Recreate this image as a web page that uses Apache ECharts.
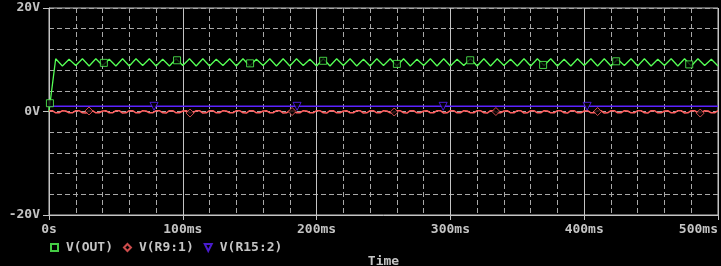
<!DOCTYPE html>
<html>
<head>
<meta charset="utf-8">
<style>
  html, body { margin: 0; padding: 0; background: #000; }
  #chart { width: 721px; height: 266px; }
</style>
<script src="https://cdn.jsdelivr.net/npm/echarts/dist/echarts.min.js"></script>
</head>
<body>
<div id="chart"></div>
<script>
// ---- data (time in ms, voltage in V) ----
const seriesNames = ['V(OUT)', 'V(R9:1)', 'V(R15:2)'];
const xTickValues = [0, 100, 200, 300, 400, 500];
const yTickValues = [-20, 0, 20];

// V(OUT): sampled every 5 ms from 0 to 500 ms
const OUT_STEP_MS = 5;
const outValues = [
  0, 10.2, 8.8, 10.1, 8.9, 10.2, 8.8, 10.2, 8.9, 10.1, 8.8,
  10.2, 8.8, 10.2, 8.9, 10.2, 8.8, 10.1, 8.8, 10.2, 8.9,
  10.2, 8.8, 10.2, 8.8, 10.1, 8.9, 10.2, 8.8, 10.2, 8.8,
  10.1, 8.9, 10.2, 8.8, 10.2, 8.8, 10.2, 8.9, 10.1, 8.8,
  10.2, 8.8, 10.2, 8.9, 10.2, 8.8, 10.1, 8.8, 10.2, 8.9,
  10.2, 8.8, 10.2, 8.8, 10.1, 8.9, 10.2, 8.8, 10.2, 8.8,
  10.1, 8.9, 10.2, 8.8, 10.2, 8.8, 10.2, 8.9, 10.1, 8.8,
  10.2, 8.8, 10.2, 8.9, 10.2, 8.8, 10.1, 8.8, 10.2, 8.9,
  10.2, 8.8, 10.2, 8.8, 10.1, 8.9, 10.2, 8.8, 10.2, 8.8,
  10.1, 8.9, 10.2, 8.8, 10.2, 8.8, 10.2, 8.9, 10.1, 8.8
];

// V(R9:1): sampled every 2.5 ms from 0 to 500 ms
const R9_STEP_MS = 2.5;
const r9Values = [
  0.15, 0.15, -0.25, -0.25, 0.15, 0.1, -0.25, -0.25,
  0.15, 0.15, -0.25, -0.3, 0.15, 0.15, -0.25, -0.25,
  0.1, 0.15, -0.25, -0.25, 0.15, 0.15, -0.3, -0.25,
  0.15, 0.15, -0.25, -0.25, 0.15, 0.1, -0.25, -0.25,
  0.15, 0.15, -0.25, -0.3, 0.15, 0.15, -0.25, -0.25,
  0.1, 0.15, -0.25, -0.25, 0.15, 0.15, -0.3, -0.25,
  0.15, 0.15, -0.25, -0.25, 0.15, 0.1, -0.25, -0.25,
  0.15, 0.15, -0.25, -0.3, 0.15, 0.15, -0.25, -0.25,
  0.1, 0.15, -0.25, -0.25, 0.15, 0.15, -0.3, -0.25,
  0.15, 0.15, -0.25, -0.25, 0.15, 0.1, -0.25, -0.25,
  0.15, 0.15, -0.25, -0.3, 0.15, 0.15, -0.25, -0.25,
  0.1, 0.15, -0.25, -0.25, 0.15, 0.15, -0.3, -0.25,
  0.15, 0.15, -0.25, -0.25, 0.15, 0.1, -0.25, -0.25,
  0.15, 0.15, -0.25, -0.3, 0.15, 0.15, -0.25, -0.25,
  0.1, 0.15, -0.25, -0.25, 0.15, 0.15, -0.3, -0.25,
  0.15, 0.15, -0.25, -0.25, 0.15, 0.1, -0.25, -0.25,
  0.15, 0.15, -0.25, -0.3, 0.15, 0.15, -0.25, -0.25,
  0.1, 0.15, -0.25, -0.25, 0.15, 0.15, -0.3, -0.25,
  0.15, 0.15, -0.25, -0.25, 0.15, 0.1, -0.25, -0.25,
  0.15, 0.15, -0.25, -0.3, 0.15, 0.15, -0.25, -0.25,
  0.1, 0.15, -0.25, -0.25, 0.15, 0.15, -0.3, -0.25,
  0.15, 0.15, -0.25, -0.25, 0.15, 0.1, -0.25, -0.25,
  0.15, 0.15, -0.25, -0.3, 0.15, 0.15, -0.25, -0.25,
  0.1, 0.15, -0.25, -0.25, 0.15, 0.15, -0.3, -0.25,
  0.15, 0.15, -0.25, -0.25, 0.15, 0.1, -0.25, -0.25,
  0.15
];

// V(R15:2): constant
const r15Times = [0, 500];
const r15Values = [1.0, 1.0];

// trace markers (time ms, value V)
const outMarkerTimes = [0.7, 41, 95.7, 150.3, 204.9, 260, 314.8, 369.3, 423.9, 478.5];
const outMarkerValues = [1.6, 9.4, 9.9, 9.3, 9.8, 9.2, 9.9, 9.0, 9.7, 9.1];
const r9MarkerTimes = [29.9, 105.4, 181.7, 258, 334, 410, 486.7];
const r9MarkerValues = [0.1, -0.3, 0.0, -0.1, 0.0, 0.0, -0.3];
const r15MarkerTimes = [78.5, 185.4, 294.6, 402.2];
const r15MarkerValues = [1.0, 1.0, 1.0, 1.0];

// ---- styles ----
const GREEN = '#55ff55';
const RED = '#ff5f5f';
const BLUE = '#5a22ff';
const FG = '#c4c4c4';
const DASH = '#a8a8a8';
const FONT = 'DejaVu Sans Mono';

const pairs = (ts, vs) => ts.map((t, i) => [t, vs[i]]);
const stepped = (vs, step) => vs.map((v, i) => [i * step, v]);

const chart = echarts.init(document.getElementById('chart'), null, { renderer: 'canvas' });

const labelStyle = { color: FG, fontFamily: FONT, fontSize: 13, fontWeight: 'bold' };

chart.setOption({
  backgroundColor: '#000',
  animation: false,
  grid: {
    left: 49, right: 3, top: 8, bottom: 51,
    containLabel: false, outerBoundsMode: 'none',
    show: true, borderColor: FG, borderWidth: 1, backgroundColor: '#000'
  },
  legend: {
    data: seriesNames,
    left: 50, top: 241, padding: 0,
    itemWidth: 7, itemHeight: 7, itemGap: 10,
    textStyle: Object.assign({}, labelStyle, { padding: [0, 0, 0, 3] }),
    selectedMode: false
  },
  xAxis: [
    {
      type: 'value', min: 0, max: 500, interval: 100, position: 'bottom',
      axisLine: { show: true, onZero: false, lineStyle: { color: FG, width: 1 } },
      axisTick: { show: true, inside: false, length: 5, lineStyle: { color: FG } },
      axisLabel: Object.assign({}, labelStyle, {
        margin: 8, alignMaxLabel: 'right',
        formatter: v => xTickValues.includes(v) ? (v === 0 ? '0s' : v + 'ms') : ''
      }),
      splitLine: { show: true, lineStyle: { color: FG, width: 1, type: 'solid' } },
      name: 'Time', nameLocation: 'middle', nameGap: 40,
      nameTextStyle: labelStyle, z: 3
    },
    {
      type: 'value', min: 0, max: 500, interval: 20, position: 'top',
      axisLine: { show: false }, axisTick: { show: false }, axisLabel: { show: false },
      splitLine: { show: true, lineStyle: { color: DASH, width: 1, type: [5, 3] } }
    }
  ],
  yAxis: [
    {
      type: 'value', min: -20, max: 20, interval: 20, position: 'left',
      axisLine: { show: true, onZero: false, lineStyle: { color: FG, width: 1 } },
      axisTick: { show: true, inside: false, length: 6, lineStyle: { color: FG } },
      axisLabel: Object.assign({}, labelStyle, {
        margin: 9,
        formatter: v => yTickValues.includes(v) ? v + 'V' : ''
      }),
      splitLine: { show: false }
    },
    {
      type: 'value', min: -20, max: 20, interval: 4, position: 'right',
      axisLine: { show: false }, axisTick: { show: false }, axisLabel: { show: false },
      splitLine: { show: true, lineStyle: { color: DASH, width: 1, type: [5, 3] } }
    }
  ],
  series: [
    {
      name: 'V(OUT) trace', type: 'line', data: stepped(outValues, OUT_STEP_MS),
      showSymbol: false, lineStyle: { color: GREEN, width: 1.3 }, itemStyle: { color: GREEN }, z: 4
    },
    {
      name: 'V(R9:1) trace', type: 'line', data: stepped(r9Values, R9_STEP_MS),
      showSymbol: false, lineStyle: { color: RED, width: 1.5 }, itemStyle: { color: RED }, z: 4
    },
    {
      name: 'V(R15:2) trace', type: 'line', data: pairs(r15Times, r15Values),
      showSymbol: false, lineStyle: { color: BLUE, width: 1.5 }, itemStyle: { color: BLUE }, z: 4
    },
    {
      name: seriesNames[0], type: 'scatter', data: pairs(outMarkerTimes, outMarkerValues),
      symbol: 'rect', symbolSize: 7,
      itemStyle: { color: '#000', borderColor: GREEN, borderWidth: 1 }, z: 5
    },
    {
      name: seriesNames[1], type: 'scatter', data: pairs(r9MarkerTimes, r9MarkerValues),
      symbol: 'diamond', symbolSize: 8,
      itemStyle: { color: '#000', borderColor: RED, borderWidth: 1 }, z: 5
    },
    {
      name: seriesNames[2], type: 'scatter', data: pairs(r15MarkerTimes, r15MarkerValues),
      symbol: 'path://M0,0 L10,0 L5,10 Z', symbolSize: 8,
      itemStyle: { color: '#000', borderColor: BLUE, borderWidth: 1 }, z: 5
    }
  ]
});
</script>
</body>
</html>
